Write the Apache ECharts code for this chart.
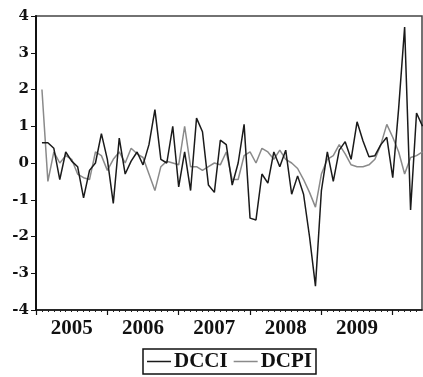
<!DOCTYPE html>
<html>
<head>
<meta charset="utf-8">
<script src="https://cdn.jsdelivr.net/npm/echarts@6/dist/echarts.min.js"></script>
<style>
  html, body { margin: 0; padding: 0; background: #fff; }
  #chart { width: 423px; height: 377px; }
</style>
</head>
<body>
<div id="chart"></div>
<script>
// monthly values, starting Feb 2005
var startYear = 2005;
var firstMonth = 1; // Feb
var years = [2005, 2006, 2007, 2008, 2009];
var yTicks = [-4, -3, -2, -1, 0, 1, 2, 3, 4];

var dcci = [
  0.55, 0.55, 0.4, -0.45, 0.3, 0.05, -0.1, -0.95, -0.2, 0.0, 0.8,
  0.1, -1.1, 0.68, -0.3, 0.05, 0.3, -0.05, 0.5, 1.45, 0.1, 0.0, 1.0,
  -0.65, 0.3, -0.75, 1.22, 0.85, -0.6, -0.8, 0.62, 0.5, -0.6, 0.0, 1.05,
  -1.5, -1.55, -0.3, -0.55, 0.3, -0.1, 0.35, -0.85, -0.35, -0.85, -2.0, -3.35,
  -0.75, 0.3, -0.5, 0.35, 0.58, 0.1, 1.12, 0.6, 0.17, 0.2, 0.5, 0.7,
  -0.4, 1.5, 3.7, -1.28, 1.36, 1.0
];
var dcpi = [
  2.0, -0.5, 0.3, 0.0, 0.2, 0.1, -0.3, -0.4, -0.45, 0.3, 0.2,
  -0.2, 0.1, 0.3, 0.0, 0.4, 0.25, 0.15, -0.3, -0.75, -0.1, 0.05, 0.0,
  -0.05, 1.0, -0.1, -0.1, -0.2, -0.1, 0.0, -0.05, 0.3, -0.45, -0.45, 0.2,
  0.3, 0.0, 0.4, 0.3, 0.1, 0.35, 0.1, 0.0, -0.15, -0.45, -0.8, -1.2,
  -0.3, 0.1, 0.2, 0.5, 0.25, -0.05, -0.1, -0.1, -0.05, 0.1, 0.5, 1.05,
  0.7, 0.3, -0.3, 0.15, 0.2, 0.3
];

function toPairs(arr) {
  return arr.map(function (v, i) {
    return [startYear + (firstMonth + i) / 12, v];
  });
}

var serif = 'Liberation Serif';
var myChart = echarts.init(document.getElementById('chart'));

var option = {
  animation: false,
  grid: {
    left: 36, top: 16, right: 1, bottom: 67,
    show: true, borderColor: '#444', borderWidth: 1.5
  },
  xAxis: {
    type: 'value',
    min: 2005,
    max: 2010.41,
    interval: 1,
    axisLine: { onZero: false, lineStyle: { color: '#111', width: 1.5 } },
    axisTick: {
      customValues: [2005, 2006, 2007, 2008, 2009, 2010],
      length: 5,
      lineStyle: { color: '#111', width: 1.2 }
    },
    minorTick: { show: true, splitNumber: 12, length: 2, lineStyle: { color: '#222' } },
    axisLabel: {
      customValues: years.map(function (y) { return y + 0.5; }),
      formatter: function (v) { return String(Math.floor(v)); },
      fontFamily: serif, fontWeight: 'bold', fontSize: 21, color: '#111', margin: 8
    },
    splitLine: { show: false }
  },
  yAxis: {
    type: 'value',
    min: yTicks[0],
    max: yTicks[yTicks.length - 1],
    interval: 1,
    axisLine: { show: true, lineStyle: { color: '#111', width: 2 } },
    axisTick: { show: true, length: 5, lineStyle: { color: '#111' } },
    axisLabel: { fontFamily: 'DejaVu Serif', fontWeight: 'bold', fontSize: 15, color: '#111', margin: 7 },
    splitLine: { show: false }
  },
  legend: {
    left: 143,
    top: 349,
    padding: [2, 4],
    itemGap: 6,
    itemWidth: 24,
    itemHeight: 1.5,
    icon: 'rect',
    borderColor: '#111',
    borderWidth: 1.5,
    textStyle: { fontFamily: serif, fontWeight: 'bold', fontSize: 21, color: '#111', padding: [0, 0, 0, -2] },
    data: ['DCCI', 'DCPI']
  },
  series: [
    {
      name: 'DCPI', type: 'line', data: toPairs(dcpi), symbol: 'none',
      lineStyle: { color: '#8a8a8a', width: 1.5 }, itemStyle: { color: '#8a8a8a' }
    },
    {
      name: 'DCCI', type: 'line', data: toPairs(dcci), symbol: 'none',
      lineStyle: { color: '#1a1a1a', width: 1.5 }, itemStyle: { color: '#1a1a1a' }
    }
  ]
};
myChart.setOption(option);
</script>
</body>
</html>
